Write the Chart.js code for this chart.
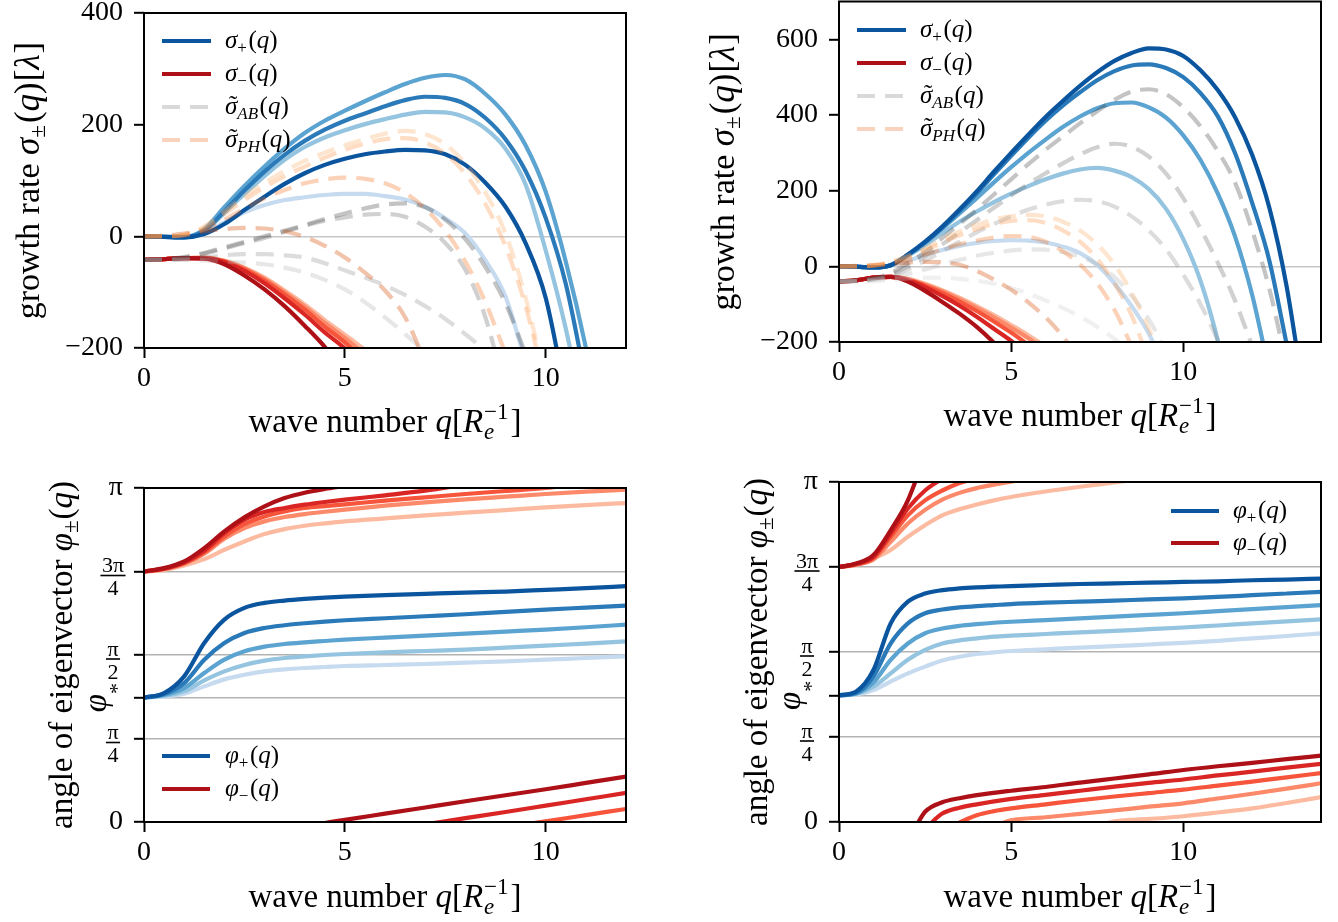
<!DOCTYPE html>
<html><head><meta charset="utf-8"><title>Growth rates and eigenvector angles</title>
<script src="https://cdn.jsdelivr.net/npm/chart.js@4.4.1/dist/chart.umd.min.js"></script>
<style>
html,body{margin:0;padding:0;background:#fff;overflow:hidden}
#fig{position:relative;width:1338px;height:922px;background:#fff}
#fig canvas{position:absolute;display:block}
</style></head><body>
<div id="fig">
<canvas id="tl" width="669" height="461" style="left:0px;top:0px;width:669px;height:461px"></canvas>
<canvas id="tr" width="669" height="461" style="left:669px;top:0px;width:669px;height:461px"></canvas>
<canvas id="bl" width="669" height="461" style="left:0px;top:461px;width:669px;height:461px"></canvas>
<canvas id="br" width="669" height="461" style="left:669px;top:461px;width:669px;height:461px"></canvas>
</div>
<script>
// ---------------- DATA ----------------
// wave-number grids
const tlQ = [0,0.5,1,1.5,2,2.5,3,3.5,4,4.5,5,5.5,6,6.5,7,7.5,8,8.5,9,9.5,10,10.5,11,11.5,12];
const trQ = [0,0.5,1,1.5,2,2.5,3,3.5,4,4.5,5,5.5,6,6.5,7,7.5,8,8.5,9,9.5,10,10.5,11,11.5,12,12.5,13,13.5,14];
const blQ = [0,0.5,1,1.5,2,2.5,3,3.5,4,4.5,5,6,7,8,9,10,11,12];
const brQ = [0,0.5,1,1.5,2,2.5,3,3.5,4,4.5,5,6,7,8,9,10,11,12,13,14];

// top-left: growth rates (darkest parameter first)
const tlSigPlus = [
  [0,-1,-2,4,22,47,71,94,113,128,139,147,152,155,154,147,128,96,53,-12,-110,-285],
  [0,-1,-2,10,45,82,116,146,171,191,207,220,233,244,250,248,237,212,174,117,33,-85,-260],
  [0,-1,-1,13,52,90,125,157,185,207,225,242,258,273,284,289,281,255,218,163,80,-45,-199,-390],
  [0,-1,-2,9,42,76,108,137,160,177,190,201,210,218,223,222,213,193,157,93,-25,-165,-340],
  [0,-1,-1,5,25,43,56,65,70,74,76,76,72,66,53,32,5,-43,-108,-225]
];
const tlSigMinus = [
  [-42,-41,-39,-40,-50,-70,-95,-125,-160,-198,-245],
  [-42,-41,-39,-39,-46,-62,-84,-111,-140,-172,-201,-240],
  [-42,-41,-39,-39,-45,-59,-79,-104,-131,-162,-190,-225],
  [-42,-41,-39,-38,-44,-57,-76,-100,-126,-155,-182,-212],
  [-42,-41,-39,-38,-44,-56,-74,-97,-122,-150,-176,-204,-240]
];
const tlSigAB = [
  [-42,-41,-37,-30,-20,-10,0,10,20,31,41,50,57,59,52,30,-5,-55,-120,-210],
  [-42,-41,-38,-31,-22,-12,-3,8,19,28,34,39,40,35,17,-12,-60,-145,-280],
  [-42,-42,-41,-38,-34,-32,-32,-34,-38,-48,-61,-74,-88,-105,-125,-148,-175,-205],
  [-42,-42,-42,-43,-45,-47,-50,-56,-65,-78,-95,-118,-145,-175,-207]
];
const tlSigPH = [
  [0,1,5,9,13,15,14,9,-1,-17,-38,-65,-97,-145,-225],
  [0,0,2,12,30,50,68,83,95,102,105,103,95,78,50,10,-45,-118,-210],
  [0,0,2,15,40,65,88,108,125,141,155,166,174,176,168,148,112,58,-18,-125,-270],
  [0,0,3,18,45,72,96,117,135,150,163,174,184,189,183,165,130,78,5,-110,-260]
];

// top-right: growth rates
const trSigPlus = [
  [0,-1,-3,3,31,65,105,150,198,250,300,348,395,437,477,513,543,564,576,573,556,518,466,395,295,155,-52,-340],
  [0,-1,-3,3,30,63,102,146,193,243,292,340,385,425,460,492,516,531,534,524,500,458,397,300,168,15,-205],
  [0,-1,-3,3,30,62,100,140,180,222,262,300,335,368,396,418,431,433,420,393,346,281,193,80,-75,-280],
  [0,-1,-3,3,28,56,88,118,145,170,192,212,230,245,256,260,253,236,204,152,72,-38,-195,-400],
  [0,-1,-2,3,15,30,43,54,62,67,69,68,63,52,35,4,-45,-105,-178,-280]
];
const trSigMinus = [
  [-40,-37,-30,-28,-40,-65,-94,-125,-160,-202,-250],
  [-40,-37,-30,-28,-36,-55,-78,-104,-133,-165,-197,-235],
  [-40,-37,-30,-28,-35,-51,-70,-93,-118,-146,-175,-208,-245],
  [-40,-37,-30,-28,-34,-48,-66,-87,-110,-135,-162,-190,-222],
  [-40,-37,-30,-28,-33,-46,-63,-83,-105,-129,-155,-182,-212]
];
const trSigAB = [
  [-40,-38,-32,-18,8,38,75,112,150,190,230,270,308,343,378,410,440,462,468,455,420,370,305,222,95,-60,-260],
  [-40,-38,-33,-22,0,27,58,90,122,155,187,218,246,272,296,315,324,316,290,245,180,100,10,-90,-210],
  [-40,-38,-34,-25,-8,15,40,65,90,112,132,150,163,172,176,172,158,132,95,45,-22,-100,-195,-310],
  [-40,-39,-36,-29,-20,-8,5,17,28,36,42,45,44,38,26,5,-28,-78,-140,-225],
  [-40,-40,-39,-36,-32,-30,-30,-33,-38,-46,-57,-72,-90,-110,-133,-160,-192,-230]
];
const trSigPH = [
  [0,1,3,6,10,12,11,4,-12,-35,-62,-95,-135,-185,-250],
  [0,0,2,8,18,31,45,58,68,76,80,78,65,40,5,-45,-115,-210],
  [0,0,2,10,24,42,62,82,98,112,120,122,115,95,65,20,-45,-130,-250],
  [0,0,3,12,28,48,70,92,110,124,132,136,132,118,95,58,5,-70,-165,-290]
];

// bottom panels: eigenvector angles in units of pi
const phiStar = 0.3725;
const blPhiPlus = [
  [0.3725,0.386,0.436,0.536,0.606,0.641,0.656,0.663,0.668,0.672,0.675,0.679,0.683,0.687,0.690,0.695,0.700,0.706],
  [0.3725,0.383,0.416,0.486,0.536,0.566,0.581,0.589,0.595,0.600,0.604,0.610,0.616,0.622,0.629,0.636,0.642,0.648],
  [0.3725,0.380,0.401,0.446,0.486,0.511,0.525,0.533,0.538,0.542,0.546,0.552,0.558,0.564,0.570,0.576,0.583,0.591],
  [0.3725,0.378,0.391,0.424,0.451,0.470,0.483,0.491,0.496,0.500,0.503,0.508,0.512,0.516,0.522,0.528,0.534,0.541],
  [0.3725,0.376,0.384,0.406,0.427,0.441,0.451,0.457,0.461,0.464,0.467,0.470,0.473,0.477,0.481,0.486,0.491,0.496]
];
const blPhiMinusUpper = [
  [0.75,0.760,0.780,0.820,0.870,0.912,0.945,0.970,0.986,0.997,1.006],
  [0.75,0.759,0.777,0.812,0.865,0.905,0.928,0.940,0.950,0.958,0.965,0.978,0.992,1.010],
  [0.75,0.758,0.775,0.808,0.855,0.892,0.915,0.930,0.940,0.946,0.951,0.962,0.972,0.982,0.991,1.000,1.015],
  [0.75,0.757,0.773,0.803,0.848,0.880,0.900,0.913,0.922,0.929,0.935,0.947,0.957,0.966,0.974,0.982,0.989,0.995],
  [0.75,0.755,0.768,0.787,0.815,0.840,0.862,0.877,0.887,0.894,0.900,0.909,0.918,0.926,0.934,0.942,0.949,0.955]
];
const blPhiMinusLowerQ = [[4.5,5,6,7,8,9,10,11,12],[7,8,9,10,11,12],[9.5,10,11,12]];
const blPhiMinusLower = [
  [-0.003,0.0065,0.025,0.0435,0.062,0.080,0.098,0.117,0.136],
  [-0.007,0.0115,0.030,0.049,0.068,0.087],
  [-0.007,0.002,0.0205,0.039]
];
const brPhiPlus = [
  [0.3725,0.384,0.447,0.584,0.648,0.672,0.682,0.687,0.690,0.692,0.694,0.697,0.700,0.702,0.704,0.706,0.708,0.711,0.713,0.716],
  [0.3725,0.380,0.428,0.525,0.584,0.614,0.625,0.631,0.635,0.638,0.641,0.645,0.648,0.651,0.655,0.658,0.662,0.667,0.672,0.677],
  [0.3725,0.378,0.410,0.477,0.525,0.555,0.569,0.577,0.582,0.586,0.589,0.594,0.599,0.604,0.609,0.614,0.620,0.626,0.632,0.638],
  [0.3725,0.377,0.398,0.437,0.477,0.506,0.525,0.534,0.540,0.545,0.548,0.553,0.558,0.562,0.567,0.572,0.578,0.584,0.590,0.596],
  [0.3725,0.375,0.388,0.413,0.437,0.457,0.475,0.486,0.494,0.499,0.503,0.508,0.513,0.517,0.522,0.527,0.533,0.540,0.547,0.555]
];
const brPhiMinusUpper = [
  [0.75,0.760,0.785,0.858,0.946,1.08],
  [0.75,0.759,0.780,0.848,0.922,0.975,1.010],
  [0.75,0.758,0.776,0.839,0.902,0.946,0.975,0.997,1.012],
  [0.75,0.757,0.772,0.824,0.878,0.918,0.948,0.968,0.982,0.992,1.001,1.020],
  [0.75,0.756,0.775,0.800,0.839,0.873,0.902,0.920,0.934,0.946,0.956,0.972,0.986,0.999,1.012]
];
const brPhiMinusLowerQ = [
  [2.25,2.5,3,3.5,4,5,6,7,8,9,10,11,12,13,14],
  [2.6,3,3.5,4,5,6,7,8,9,10,11,12,13,14],
  [3.4,4,4.5,5,6,7,8,9,10,11,12,13,14],
  [4.7,5,6,7,8,9,10,11,12,13,14],
  [7.8,8,9,10,11,12,13,14]
];
const brPhiMinusLower = [
  [-0.01,0.03,0.058,0.070,0.079,0.092,0.103,0.116,0.128,0.140,0.153,0.164,0.174,0.185,0.195],
  [-0.01,0.025,0.042,0.052,0.068,0.080,0.092,0.104,0.115,0.125,0.137,0.148,0.160,0.171],
  [-0.006,0.020,0.032,0.040,0.052,0.064,0.075,0.085,0.095,0.107,0.119,0.131,0.144],
  [-0.005,0.005,0.014,0.024,0.034,0.045,0.055,0.069,0.083,0.098,0.114],
  [-0.003,0.002,0.009,0.017,0.028,0.040,0.056,0.073]
];

// tick values
const xTicks = [0,5,10];
const tlYTicks = [-200,0,200,400];
const trYTicks = [-200,0,200,400,600];
const angTicks = [0,0.25,phiStar,0.5,0.75,1];

// ---------------- STYLE ----------------
const SERIF = '"Liberation Serif", "Times New Roman", serif';
const BLUES = ['#0b559f','#2a7ab9','#5ba3d0','#94c4df','#c6dbef'];
const REDS = ['#ad1117','#d92523','#f6553c','#fc8a6a','#fcbba1'];
const GREYS = ['rgba(60,60,60,0.3)','rgba(100,100,100,0.3)','rgba(140,140,140,0.3)','rgba(175,175,175,0.3)','rgba(205,205,205,0.3)'];
const ORANGES = ['rgba(217,72,1,0.33)','rgba(241,105,19,0.3)','rgba(253,141,60,0.3)','rgba(253,174,107,0.32)'];
const LEG_AB = 'rgba(130,130,130,0.3)';
const LEG_PH = 'rgba(235,108,35,0.3)';
const LW = 4.2, DASH = [18,10];

function F(sz, it){ return (it ? 'italic ' : '') + sz + 'px ' + SERIF; }
function segW(ctx, s){
  if (s.sub !== undefined){
    ctx.font = F(s.sz, true); const a = ctx.measureText(s.sub).width;
    ctx.font = F(s.sz, false); const b = ctx.measureText(s.sup).width;
    return Math.max(a,b) + (s.gap||0);
  }
  ctx.font = F(s.sz, s.it); return ctx.measureText(s.t).width + (s.gap||0);
}
function drawRich(ctx, segs, x, y, align, rot){
  ctx.save(); ctx.translate(x,y); if (rot) ctx.rotate(rot);
  ctx.fillStyle = '#000'; ctx.textBaseline = 'alphabetic'; ctx.textAlign = 'left';
  const ws = segs.map(s => segW(ctx,s) + (s.pre||0));
  const tot = ws.reduce((p,c)=>p+c,0);
  let cx = align === 'center' ? -tot/2 : (align === 'right' ? -tot : 0);
  segs.forEach((s,i)=>{
    if (s.sub !== undefined){
      ctx.font = F(s.sz, true); ctx.fillText(s.sub, cx, s.subDy);
      ctx.font = F(s.sz, false); ctx.fillText(s.sup, cx, s.supDy);
    } else {
      ctx.font = F(s.sz, s.it); ctx.fillText(s.t, cx + (s.pre||0), s.dy||0);
      if (s.tilde){
        const w = ctx.measureText(s.t).width;
        ctx.font = F(s.sz, false);
        const tw = ctx.measureText('\u02DC').width;
        ctx.fillText('\u02DC', cx + (s.pre||0) + (w-tw)/2 + s.sz*0.08, (s.dy||0) - s.sz*0.03);
      }
    }
    cx += ws[i];
  });
  ctx.restore();
}
function drawFrac(ctx, num, den, cx, tickY){
  ctx.save();
  ctx.font = F(22,false); ctx.textAlign = 'center'; ctx.textBaseline = 'alphabetic'; ctx.fillStyle = '#000';
  const w = ctx.measureText(num).width;
  const barY = tickY + 4;
  ctx.fillText(num, cx, barY - 3.5);
  ctx.fillText(den, cx, barY + 19.5);
  ctx.fillRect(cx - w/2 - 1.5, barY - 0.8, w + 3, 1.6);
  ctx.restore();
}

// text segments
const T = 33, TS = 23, L = 25, LS = 17;
const segGrowth = [{t:'growth rate ',sz:34},{t:'\u03C3',it:1,sz:35},{t:'\u00B1',sz:TS,dy:6,gap:2},{t:'(',sz:35},{t:'q',it:1,sz:35},{t:')',sz:35},{t:'[',sz:35,pre:1},{t:'\u03BB',it:1,sz:35,gap:1},{t:']',sz:35}];
const segAngle = [{t:'angle of eigenvector ',sz:T},{t:'\u03C6',it:1,sz:T},{t:'\u00B1',sz:TS,dy:6,gap:1},{t:'(',sz:T},{t:'q',it:1,sz:T},{t:')',sz:T}];
const segWave = [{t:'wave number ',sz:T},{t:'q',it:1,sz:T},{t:'[',sz:T},{t:'R',it:1,sz:T,gap:1},{sub:'e',sup:'\u22121',sz:TS,subDy:7,supDy:-13,gap:2},{t:']',sz:T}];
function legSeg(sym, sub, tilde, subIt){
  return [{t:sym,it:1,sz:L,tilde:tilde},{t:sub,it:subIt,sz:LS,dy:5,gap:1.5},{t:'(',sz:L},{t:'q',it:1,sz:L},{t:')',sz:L}];
}
const legSigma = (ys)=>[
  {y:ys[0], color:BLUES[0], segs:legSeg('\u03C3','+',0,0)},
  {y:ys[1], color:REDS[0], segs:legSeg('\u03C3','\u2212',0,0)},
  {y:ys[2], color:LEG_AB, dash:DASH, segs:legSeg('\u03C3','AB',1,1)},
  {y:ys[3], color:LEG_PH, dash:DASH, segs:legSeg('\u03C3','PH',1,1)}
];
const legPhi = (ys)=>[
  {y:ys[0], color:BLUES[0], segs:legSeg('\u03C6','+',0,0)},
  {y:ys[1], color:REDS[0], segs:legSeg('\u03C6','\u2212',0,0)}
];

const ANN = {
  tl:{lx:[162,211], tx:225, legend:legSigma([41,74,107,140]), xt:[385,432], yt:[39,180.5], yTitle:segGrowth},
  tr:{lx:[188,237], tx:251, legend:legSigma([30,63,96,129]), xt:[411,426], yt:[65,171.8], yTitle:segGrowth},
  bl:{lx:[162,210], tx:225, legend:legPhi([295,328]), xt:[385,446], yt:[72,194], yTitle:segAngle, ang:true, fx:113},
  br:{lx:[502,550], tx:564, legend:legPhi([50,82]), xt:[411,446], yt:[98,191], yTitle:segAngle, ang:true, fx:138}
};

const annotPlugin = {
  id:'annot',
  afterDraw(chart){
    const A = ANN[chart.canvas.id]; if (!A) return;
    const ctx = chart.ctx, a = chart.chartArea;
    ctx.save();
    ctx.strokeStyle = '#000'; ctx.lineWidth = 2; ctx.setLineDash([]);
    ctx.strokeRect(a.left, a.top, a.right - a.left, a.bottom - a.top);
    A.legend.forEach(e=>{
      ctx.beginPath(); ctx.setLineDash(e.dash||[]); ctx.strokeStyle = e.color; ctx.lineWidth = LW; ctx.lineCap = 'butt';
      ctx.moveTo(A.lx[0], e.y); ctx.lineTo(A.lx[1], e.y); ctx.stroke(); ctx.setLineDash([]);
      drawRich(ctx, e.segs, A.tx, e.y + 7, 'left', 0);
    });
    drawRich(ctx, segWave, A.xt[0], A.xt[1], 'center', 0);
    drawRich(ctx, A.yTitle, A.yt[0], A.yt[1], 'center', -Math.PI/2);
    if (A.ang){
      const ys = chart.scales.y;
      drawFrac(ctx, '3\u03C0', '4', A.fx, ys.getPixelForValue(0.75));
      drawFrac(ctx, '\u03C0', '2', A.fx, ys.getPixelForValue(0.5));
      drawFrac(ctx, '\u03C0', '4', A.fx, ys.getPixelForValue(0.25));
      const py = ys.getPixelForValue(phiStar);
      drawRich(ctx, [{t:'\u03C6',it:1,sz:33},{t:'*',sz:22,dy:18}], A.fx - 7, py, 'center', -Math.PI/2);
    }
    ctx.restore();
  }
};

function mk(q, v, color, dashed){
  return {
    data: v.map((y,i)=>({x:q[i], y:y})),
    borderColor: color, borderWidth: LW, borderDash: dashed ? DASH : [],
    pointRadius: 0, pointHoverRadius: 0, fill: false, clip: 0,
    cubicInterpolationMode: 'monotone', borderJoinStyle: 'round', borderCapStyle: 'butt', spanGaps: false
  };
}
const fmtNum = v => (v < 0 ? '\u2212' + (-v) : String(v));

function build(id, P, sets){
  sets.forEach((d,i)=>{ d.order = -i; });
  const zero = s => { s.paddingLeft = 0; s.paddingRight = 0; s.paddingTop = 0; s.paddingBottom = 0; };
  return new Chart(document.getElementById(id), {
    type:'line',
    data:{datasets:sets},
    options:{
      responsive:false, animation:false, events:[], devicePixelRatio:1,
      layout:{padding:P.pad, autoPadding:false},
      plugins:{legend:{display:false}, tooltip:{enabled:false}, title:{display:false}},
      scales:{
        x:{ type:'linear', min:0, max:P.xmax,
          afterBuildTicks: s => { s.ticks = xTicks.map(v=>({value:v})); },
          afterFit: s => { s.height = P.xh; zero(s); },
          ticks:{ font:{family:SERIF, size:28}, color:'#000', padding:4, maxRotation:0, minRotation:0, autoSkip:false, callback: v => fmtNum(v) },
          grid:{ drawOnChartArea:false, drawTicks:true, tickLength:10, tickWidth:2, tickColor:'#000', color:'#000' },
          border:{ display:false }
        },
        y:{ type:'linear', min:P.ymin, max:P.ymax,
          afterBuildTicks: s => { s.ticks = P.yticks.map(v=>({value:v})); },
          afterFit: s => { s.width = P.yw; zero(s); },
          ticks:{ font:{family:SERIF, size:28}, color:'#000', padding:11, autoSkip:false, callback: P.ylab },
          grid:{ drawOnChartArea:true, drawTicks:true, tickLength:10, tickWidth:2, tickColor:'#000', lineWidth:1.6,
                 color: c => (c.tick && P.grid.some(g => Math.abs(g - c.tick.value) < 1e-9)) ? P.gridColor : 'rgba(0,0,0,0)' },
          border:{ display:false }
        }
      }
    },
    plugins:[annotPlugin]
  });
}

function init(){
  // top-left
  let s = [];
  for (let i = 4; i >= 0; i--) s.push(mk(tlQ, tlSigPlus[i], BLUES[i], false));
  for (let i = 4; i >= 0; i--) s.push(mk(tlQ, tlSigMinus[i], REDS[i], false));
  tlSigAB.forEach((v,i)=> s.push(mk(tlQ, v, GREYS[i], true)));
  tlSigPH.forEach((v,i)=> s.push(mk(tlQ, v, ORANGES[i], true)));
  build('tl', {xmax:12, ymin:-200, ymax:400, yticks:tlYTicks, yw:144, xh:113, pad:{left:0,top:13,right:43,bottom:0},
    grid:[0], gridColor:'rgba(0,0,0,0.22)', ylab: v => fmtNum(v)}, s);

  // top-right
  s = [];
  for (let i = 4; i >= 0; i--) s.push(mk(trQ, trSigPlus[i], BLUES[i], false));
  for (let i = 4; i >= 0; i--) s.push(mk(trQ, trSigMinus[i], REDS[i], false));
  trSigAB.forEach((v,i)=> s.push(mk(trQ, v, GREYS[i], true)));
  trSigPH.forEach((v,i)=> s.push(mk(trQ, v, ORANGES[i], true)));
  build('tr', {xmax:14, ymin:-200, ymax:700, yticks:trYTicks, yw:170, xh:119, pad:{left:0,top:1.5,right:17,bottom:0},
    grid:[0], gridColor:'rgba(0,0,0,0.22)', ylab: v => fmtNum(v)}, s);

  const angLab = v => (v === 0 ? '0' : (v === 1 ? '\u03C0' : ''));
  // bottom-left
  s = [];
  for (let i = 4; i >= 0; i--) s.push(mk(blQ, blPhiPlus[i], BLUES[i], false));
  for (let i = 4; i >= 0; i--) s.push(mk(blQ, blPhiMinusUpper[i], REDS[i], false));
  for (let i = blPhiMinusLower.length - 1; i >= 0; i--) s.push(mk(blPhiMinusLowerQ[i], blPhiMinusLower[i], REDS[i], false));
  build('bl', {xmax:12, ymin:0, ymax:1, yticks:angTicks, yw:144, xh:100, pad:{left:0,top:27,right:43,bottom:0},
    grid:[0.25, phiStar, 0.5, 0.75], gridColor:'rgba(0,0,0,0.3)', ylab: angLab}, s);

  // bottom-right
  s = [];
  for (let i = 4; i >= 0; i--) s.push(mk(brQ, brPhiPlus[i], BLUES[i], false));
  for (let i = 4; i >= 0; i--) s.push(mk(brQ, brPhiMinusUpper[i], REDS[i], false));
  for (let i = brPhiMinusLower.length - 1; i >= 0; i--) s.push(mk(brPhiMinusLowerQ[i], brPhiMinusLower[i], REDS[i], false));
  build('br', {xmax:14, ymin:0, ymax:1, yticks:angTicks, yw:170, xh:100, pad:{left:0,top:21,right:17,bottom:0},
    grid:[0.25, phiStar, 0.5, 0.75], gridColor:'rgba(0,0,0,0.3)', ylab: angLab}, s);
}

const fontsReady = (document.fonts && document.fonts.load)
  ? Promise.all([document.fonts.load('28px "Liberation Serif"'), document.fonts.load('italic 28px "Liberation Serif"')])
  : Promise.resolve();
fontsReady.then(init, init);
</script>
</body></html>
